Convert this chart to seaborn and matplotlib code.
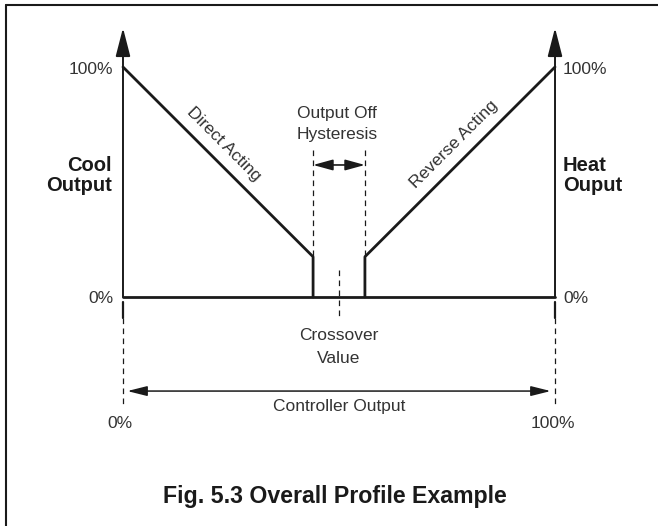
import numpy as np
import pandas as pd
import seaborn as sns
import matplotlib.pyplot as plt

sns.set_theme(style="white")
plt.rcParams['font.family'] = ['Liberation Sans', 'DejaVu Sans']

# profile values (x = controller output %, y = output %)
cool_x = [0, 44, 44]
cool_y = [100, 17.5, 0]
heat_x = [56, 56, 100]
heat_y = [0, 17.5, 100]
base_x = [0, 100]
base_y = [0, 0]
hyst_lo, hyst_hi = 44, 56
knee = 17.5
crossover = 50

ink = '#1a1a1a'
grey = '#333333'

fig = plt.figure(figsize=(6.58, 5.26), dpi=100)
ax = fig.add_axes([0, 0, 1, 1])
ax.set_xlim(-28.47, 123.84)
ax.set_ylim(-99.57, 129.13)
ax.axis('off')

# profile lines
for xs, ys in [(cool_x, cool_y), (heat_x, heat_y), (base_x, base_y)]:
    sns.lineplot(x=xs, y=ys, sort=False, estimator=None, color=ink, lw=2.0, ax=ax)

dash = (0, (4.5, 3.5))

# vertical output axes with arrows
for xa in [0, 100]:
    ax.annotate('', xy=(xa, 117), xytext=(xa, 0),
                arrowprops=dict(arrowstyle='-|>,head_length=1.75,head_width=0.45',
                                mutation_scale=10, lw=1.4, color=ink,
                                shrinkA=0, shrinkB=0))
    ax.plot([xa, xa], [-2.2, -9.1], color=ink, lw=1.6)
    ax.plot([xa, xa], [-9.1, -47], color=ink, lw=0.9, ls=dash)

# hysteresis dashed lines + arrow
for xh in [hyst_lo, hyst_hi]:
    ax.plot([xh, xh], [64, knee], color=ink, lw=0.9, ls=dash)
ax.annotate('', xy=(hyst_hi, 57.4), xytext=(hyst_lo, 57.4),
            arrowprops=dict(arrowstyle='<|-|>,head_length=1.2,head_width=0.33',
                            mutation_scale=10, lw=1.2, color=ink,
                            shrinkA=0, shrinkB=0))

# crossover dashed line
ax.plot([crossover, crossover], [11.7, -9.1], color=ink, lw=0.9, ls=dash)

# controller output arrow
ax.annotate('', xy=(99, -40.9), xytext=(1, -40.9),
            arrowprops=dict(arrowstyle='<|-|>,head_length=1.2,head_width=0.3',
                            mutation_scale=10, lw=1.1, color=ink,
                            shrinkA=0, shrinkB=0))

# text
fs = 12.5
bfs = 14.5
ax.text(-2.3, 97, '100%', ha='right', va='baseline', fontsize=fs, color=grey)
ax.text(-2.3, -2.6, '0%', ha='right', va='baseline', fontsize=fs, color=grey)
ax.text(101.85, 97, '100%', ha='left', va='baseline', fontsize=fs, color=grey)
ax.text(101.85, -2.6, '0%', ha='left', va='baseline', fontsize=fs, color=grey)
ax.text(-2.55, 54.8, 'Cool', ha='right', va='baseline', fontsize=bfs, fontweight='bold', color=ink)
ax.text(-2.55, 46.1, 'Output', ha='right', va='baseline', fontsize=bfs, fontweight='bold', color=ink)
ax.text(101.85, 54.8, 'Heat', ha='left', va='baseline', fontsize=bfs, fontweight='bold', color=ink)
ax.text(101.85, 46.1, 'Ouput', ha='left', va='baseline', fontsize=bfs, fontweight='bold', color=ink)
ax.text(23.4, 66.5, 'Direct Acting', ha='center', va='center', fontsize=fs,
        color=grey, rotation=-45, rotation_mode='anchor')
ax.text(76.6, 66.5, 'Reverse Acting', ha='center', va='center', fontsize=fs,
        color=grey, rotation=45, rotation_mode='anchor')
ax.text(49.5, 77.8, 'Output Off', ha='center', va='baseline', fontsize=fs, color=grey)
ax.text(49.5, 68.7, 'Hysteresis', ha='center', va='baseline', fontsize=fs, color=grey)
ax.text(crossover, -18.7, 'Crossover', ha='center', va='baseline', fontsize=fs, color=grey)
ax.text(crossover, -28.7, 'Value', ha='center', va='baseline', fontsize=fs, color=grey)
ax.text(50, -49.5, 'Controller Output', ha='center', va='baseline', fontsize=fs, color=grey)
ax.text(-0.7, -57, '0%', ha='center', va='baseline', fontsize=fs, color=grey)
ax.text(99.5, -57, '100%', ha='center', va='baseline', fontsize=fs, color=grey)
ax.text(49.1, -89.6, 'Fig. 5.3 Overall Profile Example', ha='center', va='baseline',
        fontsize=16.7, fontweight='bold', color=ink)

# border (top and left)
fig.add_artist(plt.Line2D([6 / 658, 1], [1 - 5 / 526, 1 - 5 / 526],
                          transform=fig.transFigure, color=ink, lw=1.5))
fig.add_artist(plt.Line2D([6 / 658, 6 / 658], [0, 1 - 5 / 526],
                          transform=fig.transFigure, color=ink, lw=1.5))

fig.savefig('out.png', dpi=100)
